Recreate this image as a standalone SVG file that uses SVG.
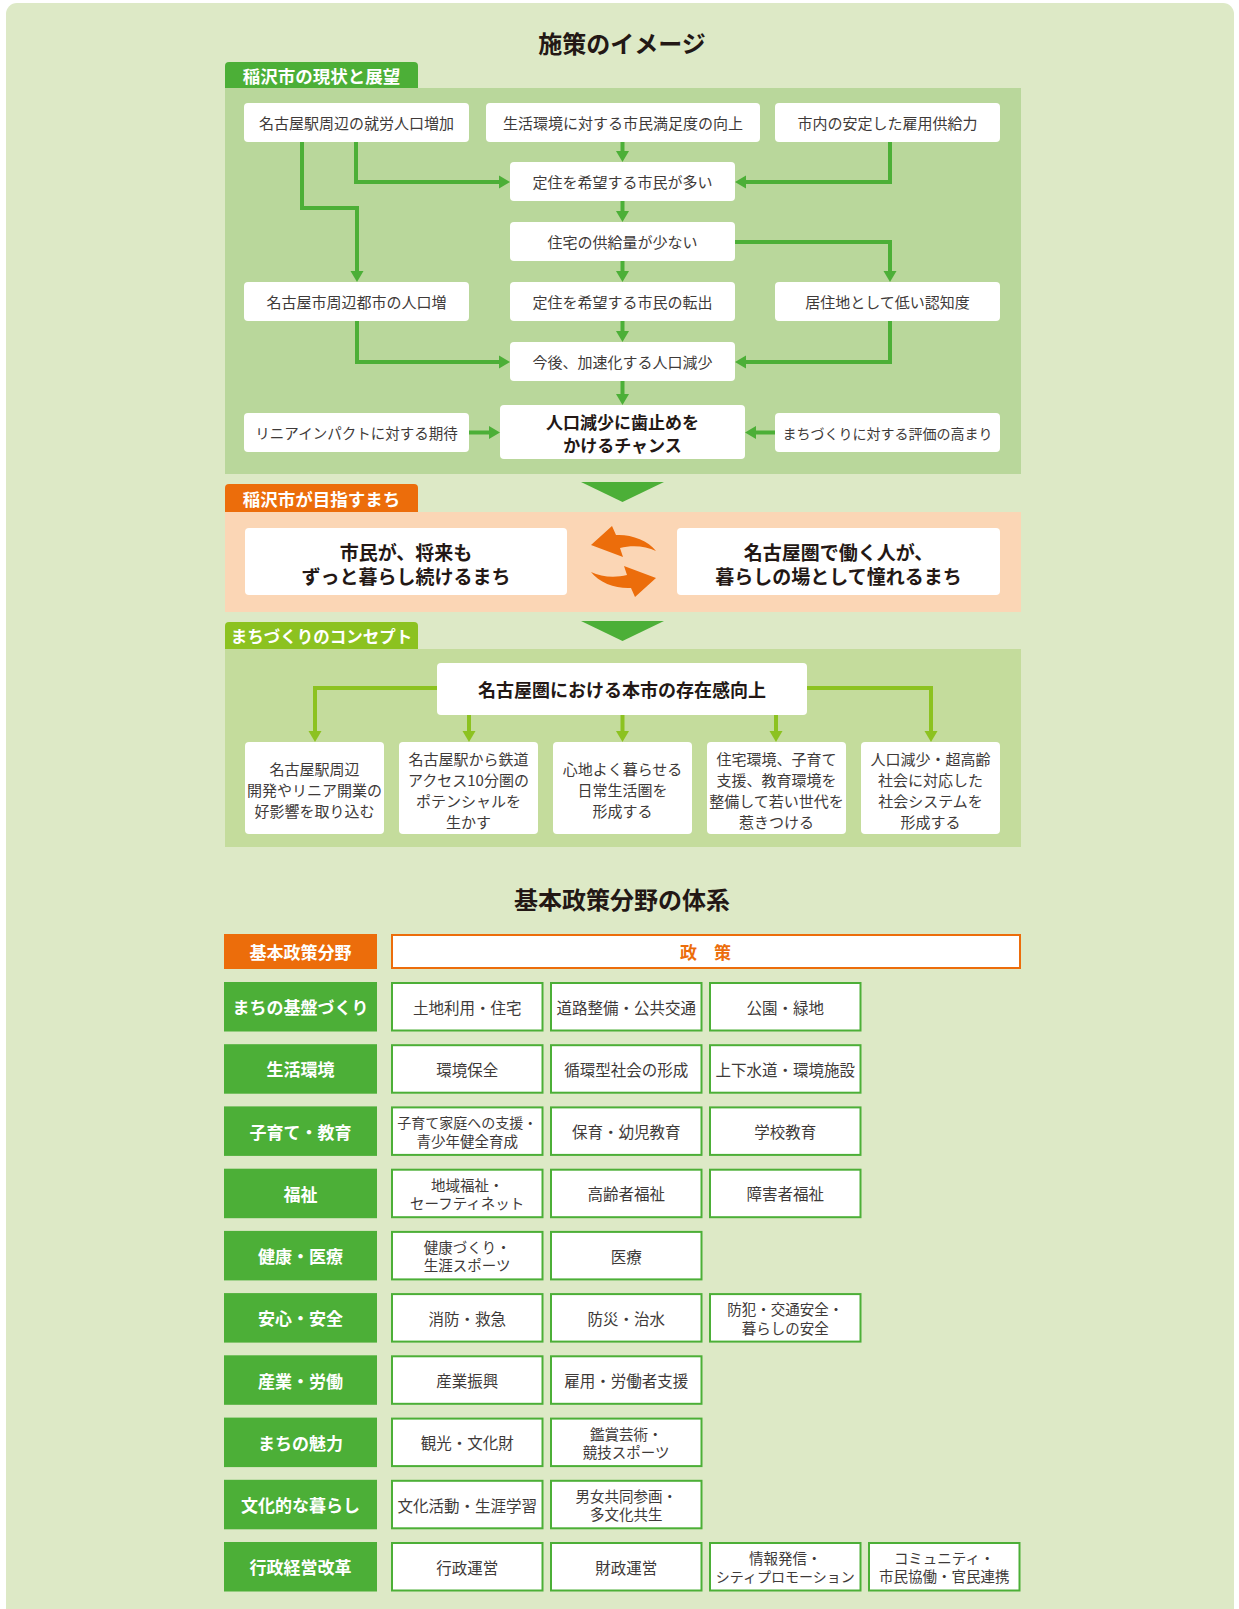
<svg xmlns="http://www.w3.org/2000/svg" width="1239" height="1609" viewBox="0 0 1239 1609">
<defs>
<style>
text{font-family:"Noto Sans CJK JP","Noto Sans",sans-serif;text-anchor:middle;dominant-baseline:central}
.ttl{font-size:24px;font-weight:700;fill:#231815}
.tab{font-size:17.5px;font-weight:700;fill:#fff}
.bx{fill:#fff}
.n{font-size:15px;fill:#3e3a39}
.nb{font-size:17px;font-weight:700;fill:#231815}
.big{font-size:19px;font-weight:700;fill:#231815}
.c1{fill:none;stroke:#4caf37;stroke-width:4;marker-end:url(#ag)}
.c2{fill:none;stroke:#8cc220;stroke-width:4;marker-end:url(#ay)}
.cat{fill:#4caf37}
.catt{font-size:17px;font-weight:700;fill:#fff}
.pol{fill:#fff;stroke:#4caf37;stroke-width:2}
.pt{font-size:15.5px;fill:#3e3a39}
.pt2{font-size:14.5px;fill:#3e3a39}
</style>
<marker id="ag" markerUnits="userSpaceOnUse" markerWidth="12" markerHeight="14" refX="3" refY="6.5" orient="auto" viewBox="0 0 12 13">
<path d="M0,0 L11,6.5 L0,13 Z" fill="#4caf37"/>
</marker>
<marker id="ay" markerUnits="userSpaceOnUse" markerWidth="12" markerHeight="14" refX="3" refY="6.5" orient="auto" viewBox="0 0 12 13">
<path d="M0,0 L11,6.5 L0,13 Z" fill="#8cc220"/>
</marker>
</defs>

<rect x="6" y="3" width="1228" height="1620" rx="11" fill="#dde9c6"/>

<!-- Section 1 -->
<text class="ttl" x="622" y="42">施策のイメージ</text>
<g id="tab1">
<path d="M225,89 V66 Q225,62 229,62 H414 Q418,62 418,66 V89 Z" fill="#4caf37"/>
<text class="tab" x="321.5" y="75.5">稲沢市の現状と展望</text>
</g>
<rect id="panel1" x="225" y="88" width="796" height="386" fill="#b9d79b"/>

<g id="connectors1">
<path class="c1" d="M356,142 V182 H502"/>
<path class="c1" d="M302,142 V208 H357 V274"/>
<path class="c1" d="M622.5,142 V154"/>
<path class="c1" d="M890,142 V182 H743"/>
<path class="c1" d="M622.5,201 V214"/>
<path class="c1" d="M622.5,261 V274"/>
<path class="c1" d="M735,242 H890 V274"/>
<path class="c1" d="M622.5,321 V334"/>
<path class="c1" d="M357,321 V362 H502"/>
<path class="c1" d="M890,321 V362 H743"/>
<path class="c1" d="M622.5,381 V397"/>
<path class="c1" d="M469,432.5 H492"/>
<path class="c1" d="M775,432.5 H753"/>
</g>

<g id="nA"><rect class="bx" x="244" y="103" width="225" height="39" rx="4"/><text class="n" x="356.5" y="122.5">名古屋駅周辺の就労人口増加</text></g>
<g id="nB"><rect class="bx" x="486" y="103" width="274" height="39" rx="4"/><text class="n" x="623" y="122.5">生活環境に対する市民満足度の向上</text></g>
<g id="nC"><rect class="bx" x="775" y="103" width="225" height="39" rx="4"/><text class="n" x="887.5" y="122.5">市内の安定した雇用供給力</text></g>
<g id="nD"><rect class="bx" x="510" y="162" width="225" height="39" rx="4"/><text class="n" x="622.5" y="181.5">定住を希望する市民が多い</text></g>
<g id="nE"><rect class="bx" x="510" y="222" width="225" height="39" rx="4"/><text class="n" x="622.5" y="241.5">住宅の供給量が少ない</text></g>
<g id="nF"><rect class="bx" x="244" y="282" width="225" height="39" rx="4"/><text class="n" x="356.5" y="301.5">名古屋市周辺都市の人口増</text></g>
<g id="nG"><rect class="bx" x="510" y="282" width="225" height="39" rx="4"/><text class="n" x="622.5" y="301.5">定住を希望する市民の転出</text></g>
<g id="nH"><rect class="bx" x="775" y="282" width="225" height="39" rx="4"/><text class="n" x="887.5" y="301.5">居住地として低い認知度</text></g>
<g id="nI"><rect class="bx" x="510" y="342" width="225" height="39" rx="4"/><text class="n" x="622.5" y="361.5">今後、加速化する人口減少</text></g>
<g id="nJ"><rect class="bx" x="244" y="413" width="225" height="39" rx="4"/><text class="n" x="356.5" y="432.5" style="font-size:14.5px">リニアインパクトに対する期待</text></g>
<g id="nK"><rect class="bx" x="500" y="405" width="245" height="54" rx="4"/><text class="nb" x="622.5" y="421">人口減少に歯止めを</text><text class="nb" x="622.5" y="444">かけるチャンス</text></g>
<g id="nL"><rect class="bx" x="775" y="413" width="225" height="39" rx="4"/><text class="n" x="887.5" y="432.5" style="font-size:14px">まちづくりに対する評価の高まり</text></g>

<!-- Section 2 -->
<polygon points="581,482 664,482 622.5,502" fill="#4caf37"/>
<g id="tab2">
<path d="M225,512 V488 Q225,484 229,484 H414 Q418,484 418,488 V512 Z" fill="#ec6d0b"/>
<text class="tab" x="321.5" y="498">稲沢市が目指すまち</text>
</g>
<rect id="panel2" x="225" y="512" width="796" height="100" fill="#fbd6b5"/>
<g id="nM"><rect class="bx" x="245" y="528" width="322" height="67" rx="4"/><text class="big" x="406" y="551">市民が、将来も</text><text class="big" x="406" y="575">ずっと暮らし続けるまち</text></g>
<g id="nN"><rect class="bx" x="677" y="528" width="323" height="67" rx="4"/><text class="big" x="838.5" y="551">名古屋圏で働く人が、</text><text class="big" x="838.5" y="575">暮らしの場として憧れるまち</text></g>
<g id="swap">
<path d="M591,545 L612,526 L616,535 C630,534 648,540 656,551 C646,546 632,545 620,548 L623,557 Z" fill="#ec6d0b"/>
<path d="M591,545 L612,526 L616,535 C630,534 648,540 656,551 C646,546 632,545 620,548 L623,557 Z" fill="#ec6d0b" transform="rotate(180 623.5 561.5)"/>
</g>

<!-- Section 3 -->
<polygon points="581,621 664,621 622.5,641" fill="#4caf37"/>
<g id="tab3">
<path d="M225,650 V626 Q225,622 229,622 H414 Q418,622 418,626 V650 Z" fill="#8cc220"/>
<text class="tab" x="321.5" y="636" style="font-size:16.5px">まちづくりのコンセプト</text>
</g>
<rect id="panel3" x="225" y="649" width="796" height="198" fill="#c4dc9c"/>
<g id="connectors2">
<path class="c2" d="M437,688 H315 V734"/>
<path class="c2" d="M807,688 H931 V734"/>
<path class="c2" d="M469,715 V734"/>
<path class="c2" d="M622.5,715 V734"/>
<path class="c2" d="M776,715 V734"/>
</g>
<g id="nO"><rect class="bx" x="437" y="663" width="370" height="52" rx="4"/><text class="nb" x="622" y="689" style="font-size:18px">名古屋圏における本市の存在感向上</text></g>
<g id="nP1"><rect class="bx" x="245" y="742" width="139" height="92" rx="4"/><text class="n" x="314.5" y="768">名古屋駅周辺</text><text class="n" x="314.5" y="789">開発やリニア開業の</text><text class="n" x="314.5" y="810">好影響を取り込む</text></g>
<g id="nP2"><rect class="bx" x="399" y="742" width="139" height="92" rx="4"/><text class="n" x="468.5" y="758">名古屋駅から鉄道</text><text class="n" x="468.5" y="779">アクセス10分圏の</text><text class="n" x="468.5" y="800">ポテンシャルを</text><text class="n" x="468.5" y="821">生かす</text></g>
<g id="nP3"><rect class="bx" x="553" y="742" width="139" height="92" rx="4"/><text class="n" x="622.5" y="768">心地よく暮らせる</text><text class="n" x="622.5" y="789">日常生活圏を</text><text class="n" x="622.5" y="810">形成する</text></g>
<g id="nP4"><rect class="bx" x="707" y="742" width="139" height="92" rx="4"/><text class="n" x="776.5" y="758">住宅環境、子育て</text><text class="n" x="776.5" y="779">支援、教育環境を</text><text class="n" x="776.5" y="800">整備して若い世代を</text><text class="n" x="776.5" y="821">惹きつける</text></g>
<g id="nP5"><rect class="bx" x="861" y="742" width="139" height="92" rx="4"/><text class="n" x="930.5" y="758">人口減少・超高齢</text><text class="n" x="930.5" y="779">社会に対応した</text><text class="n" x="930.5" y="800">社会システムを</text><text class="n" x="930.5" y="821">形成する</text></g>

<!-- Table -->
<text class="ttl" x="622" y="898">基本政策分野の体系</text>
<g id="hdr">
<rect x="224" y="934" width="153" height="35" fill="#ec6d0b"/>
<text class="catt" x="300.5" y="951.5">基本政策分野</text>
<rect x="392" y="935" width="628" height="33" fill="#fff" stroke="#ec6d0b" stroke-width="2"/>
<text x="705.5" y="951.5" style="font-size:17px;font-weight:700;fill:#ec6d0b">政　策</text>
</g>

<g id="r0">
<rect class="cat" x="224" y="982" width="153" height="49.5"/><text class="catt" x="300.5" y="1006.7">まちの基盤づくり</text>
<rect class="pol" x="392" y="983" width="150.5" height="47.5"/><text class="pt" x="467.2" y="1006.7">土地利用・住宅</text>
<rect class="pol" x="551" y="983" width="150.5" height="47.5"/><text class="pt" x="626.2" y="1006.7">道路整備・公共交通</text>
<rect class="pol" x="710" y="983" width="150.5" height="47.5"/><text class="pt" x="785.2" y="1006.7">公園・緑地</text>
</g>
<g id="r1">
<rect class="cat" x="224" y="1044.2" width="153" height="49.5"/><text class="catt" x="300.5" y="1068.9">生活環境</text>
<rect class="pol" x="392" y="1045.2" width="150.5" height="47.5"/><text class="pt" x="467.2" y="1068.9">環境保全</text>
<rect class="pol" x="551" y="1045.2" width="150.5" height="47.5"/><text class="pt" x="626.2" y="1068.9">循環型社会の形成</text>
<rect class="pol" x="710" y="1045.2" width="150.5" height="47.5"/><text class="pt" x="785.2" y="1068.9">上下水道・環境施設</text>
</g>
<g id="r2">
<rect class="cat" x="224" y="1106.4" width="153" height="49.5"/><text class="catt" x="300.5" y="1131.1">子育て・教育</text>
<rect class="pol" x="392" y="1107.4" width="150.5" height="47.5"/><text class="pt2" x="467.2" y="1121.9" style="font-size:14px">子育て家庭への支援・</text><text class="pt2" x="467.2" y="1140.3">青少年健全育成</text>
<rect class="pol" x="551" y="1107.4" width="150.5" height="47.5"/><text class="pt" x="626.2" y="1131.1">保育・幼児教育</text>
<rect class="pol" x="710" y="1107.4" width="150.5" height="47.5"/><text class="pt" x="785.2" y="1131.1">学校教育</text>
</g>
<g id="r3">
<rect class="cat" x="224" y="1168.7" width="153" height="49.5"/><text class="catt" x="300.5" y="1193.4">福祉</text>
<rect class="pol" x="392" y="1169.7" width="150.5" height="47.5"/><text class="pt2" x="467.2" y="1184.2">地域福祉・</text><text class="pt2" x="467.2" y="1202.6">セーフティネット</text>
<rect class="pol" x="551" y="1169.7" width="150.5" height="47.5"/><text class="pt" x="626.2" y="1193.4">高齢者福祉</text>
<rect class="pol" x="710" y="1169.7" width="150.5" height="47.5"/><text class="pt" x="785.2" y="1193.4">障害者福祉</text>
</g>
<g id="r4">
<rect class="cat" x="224" y="1230.9" width="153" height="49.5"/><text class="catt" x="300.5" y="1255.6">健康・医療</text>
<rect class="pol" x="392" y="1231.9" width="150.5" height="47.5"/><text class="pt2" x="467.2" y="1246.4">健康づくり・</text><text class="pt2" x="467.2" y="1264.8">生涯スポーツ</text>
<rect class="pol" x="551" y="1231.9" width="150.5" height="47.5"/><text class="pt" x="626.2" y="1255.6">医療</text>
</g>
<g id="r5">
<rect class="cat" x="224" y="1293.1" width="153" height="49.5"/><text class="catt" x="300.5" y="1317.8">安心・安全</text>
<rect class="pol" x="392" y="1294.1" width="150.5" height="47.5"/><text class="pt" x="467.2" y="1317.8">消防・救急</text>
<rect class="pol" x="551" y="1294.1" width="150.5" height="47.5"/><text class="pt" x="626.2" y="1317.8">防災・治水</text>
<rect class="pol" x="710" y="1294.1" width="150.5" height="47.5"/><text class="pt2" x="785.2" y="1308.6">防犯・交通安全・</text><text class="pt2" x="785.2" y="1327">暮らしの安全</text>
</g>
<g id="r6">
<rect class="cat" x="224" y="1355.3" width="153" height="49.5"/><text class="catt" x="300.5" y="1380">産業・労働</text>
<rect class="pol" x="392" y="1356.3" width="150.5" height="47.5"/><text class="pt" x="467.2" y="1380">産業振興</text>
<rect class="pol" x="551" y="1356.3" width="150.5" height="47.5"/><text class="pt" x="626.2" y="1380">雇用・労働者支援</text>
</g>
<g id="r7">
<rect class="cat" x="224" y="1417.6" width="153" height="49.5"/><text class="catt" x="300.5" y="1442.3">まちの魅力</text>
<rect class="pol" x="392" y="1418.6" width="150.5" height="47.5"/><text class="pt" x="467.2" y="1442.3">観光・文化財</text>
<rect class="pol" x="551" y="1418.6" width="150.5" height="47.5"/><text class="pt2" x="626.2" y="1433.1">鑑賞芸術・</text><text class="pt2" x="626.2" y="1451.5">競技スポーツ</text>
</g>
<g id="r8">
<rect class="cat" x="224" y="1479.8" width="153" height="49.5"/><text class="catt" x="300.5" y="1504.5">文化的な暮らし</text>
<rect class="pol" x="392" y="1480.8" width="150.5" height="47.5"/><text class="pt" x="467.2" y="1504.5">文化活動・生涯学習</text>
<rect class="pol" x="551" y="1480.8" width="150.5" height="47.5"/><text class="pt2" x="626.2" y="1495.3">男女共同参画・</text><text class="pt2" x="626.2" y="1513.7">多文化共生</text>
</g>
<g id="r9">
<rect class="cat" x="224" y="1542" width="153" height="49.5"/><text class="catt" x="300.5" y="1566.7">行政経営改革</text>
<rect class="pol" x="392" y="1543" width="150.5" height="47.5"/><text class="pt" x="467.2" y="1566.7">行政運営</text>
<rect class="pol" x="551" y="1543" width="150.5" height="47.5"/><text class="pt" x="626.2" y="1566.7">財政運営</text>
<rect class="pol" x="710" y="1543" width="150.5" height="47.5"/><text class="pt2" x="785.2" y="1557.5">情報発信・</text><text class="pt2" x="785.2" y="1575.9" style="font-size:14px">シティプロモーション</text>
<rect class="pol" x="869" y="1543" width="150.5" height="47.5"/><text class="pt2" x="944.2" y="1557.5">コミュニティ・</text><text class="pt2" x="944.2" y="1575.9">市民協働・官民連携</text>
</g>
</svg>
